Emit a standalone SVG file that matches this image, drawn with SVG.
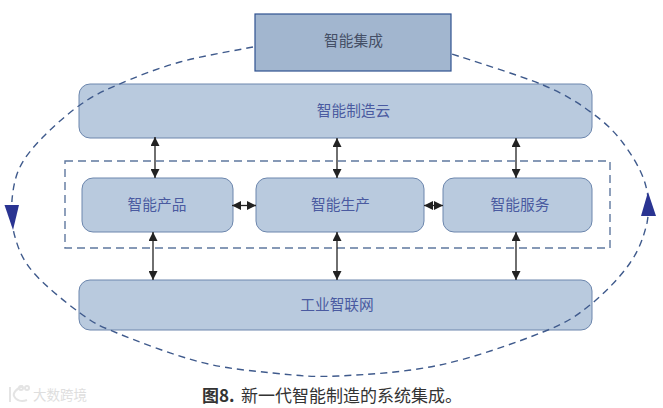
<svg xmlns="http://www.w3.org/2000/svg" width="663" height="408" viewBox="0 0 663 408">
<style>
text{font-family:"Noto Sans CJK SC","Liberation Sans",sans-serif;text-anchor:middle}
.n{fill:#b9cade;stroke:#6c86ad;stroke-width:1}
.l{font-size:14.700px;fill:#4a5aa0}
.c{stroke:#222;stroke-width:1.300;fill:none;marker-start:url(#a);marker-end:url(#a)}
.d{stroke:#3f5a8c;stroke-width:1.400;fill:none;stroke-dasharray:7 5}
</style>
<defs>
<marker id="a" viewBox="0 0 9 9" refX="9" refY="4.500" markerWidth="9" markerHeight="9" markerUnits="userSpaceOnUse" orient="auto-start-reverse"><path d="M0 0L9 4.500L0 9Z" fill="#222"/></marker>
</defs>
<rect width="663" height="408" fill="#fff"/>
<rect x="65" y="161" width="545" height="87" fill="none" stroke="#5f789f" stroke-width="1.400" stroke-dasharray="8 5"/>
<g id="n-cloud"><rect class="n" x="79" y="84" width="513" height="54" rx="11"/><text class="l" x="353.500" y="116">智能制造云</text></g>
<g id="n-integration"><rect x="255" y="14" width="196" height="57" fill="#a2b6cf" stroke="#2f5290" stroke-width="1.200"/><text x="353.500" y="46" font-size="14.700" fill="#444f66">智能集成</text></g>
<g id="n-product"><rect class="n" x="82" y="178" width="151" height="54" rx="11"/><text class="l" x="157" y="209.500">智能产品</text></g>
<g id="n-production"><rect class="n" x="256" y="178" width="168" height="54" rx="11"/><text class="l" x="340.500" y="209.500">智能生产</text></g>
<g id="n-service"><rect class="n" x="443" y="178" width="149" height="54" rx="11"/><text class="l" x="520" y="209.500">智能服务</text></g>
<g id="n-iot"><rect class="n" x="79" y="280" width="513" height="50" rx="11"/><text class="l" x="337" y="310">工业智联网</text></g>
<g id="connectors">
<path class="c" d="M155 137V178"/><path class="c" d="M337 138V178"/><path class="c" d="M516 138V178"/>
<path class="c" d="M153 232V280"/><path class="c" d="M337 232V280"/><path class="c" d="M516 232V280"/>
<path class="c" d="M232 205.500H256"/><path class="c" d="M424 205.500H443"/>
<path class="d" d="M253 47C241 49.500 202.700 55.700 180 62C157.300 68.300 133.700 77.800 117 85C100.300 92.200 92.300 96.300 80 105C67.700 113.700 53 126.700 43 137C33 147.300 25.200 156.500 20 167C14.800 177.500 13 189 12 200C11.200 211.700 11.500 225 15 237C18.500 249 22.200 259.300 33 272C43.800 284.700 66 302.800 80 313C94 323.200 97 324.800 117 333C137 341.200 174 355.300 200 362C226 368.700 250 370.700 273 373C296 375.300 310.200 377.300 338 376C365.800 374.700 405.800 372.300 440 365C474.200 357.700 518 342 543 332C568 322 575.500 316.500 590 305C604.500 293.500 620.500 276.700 630 263C639.500 249.300 643.800 236.300 647 223C649.500 209.700 649 196.300 645 183C641 169.700 631.800 154.700 623 143C614.200 131.300 605.300 122.700 592 113C578.700 103.300 566.300 94.800 543 85C519.700 75.200 467.200 59.200 452 54"/>
<path d="M4.500 205H19L13 230Z" fill="#2a3492"/>
<path d="M648 192L641 216H656Z" fill="#2a3492"/>
</g>
<text y="402" fill="#333" style="text-anchor:start"><tspan x="202" font-size="17" font-weight="700">图8.</tspan><tspan x="241" font-size="17">新一代智能制造的系统集成。</tspan></text>
<g id="watermark" fill="none" stroke="#e4e4e4" stroke-width="2"><path d="M10 387V402M23 386C15 389 13 394 14 396C16 401 22 402 27 400"/><circle cx="21" cy="388" r="2"/><circle cx="27" cy="388" r="2"/></g>
<text x="60" y="399.500" font-size="13.500" fill="#dedede">大数跨境</text>
</svg>
